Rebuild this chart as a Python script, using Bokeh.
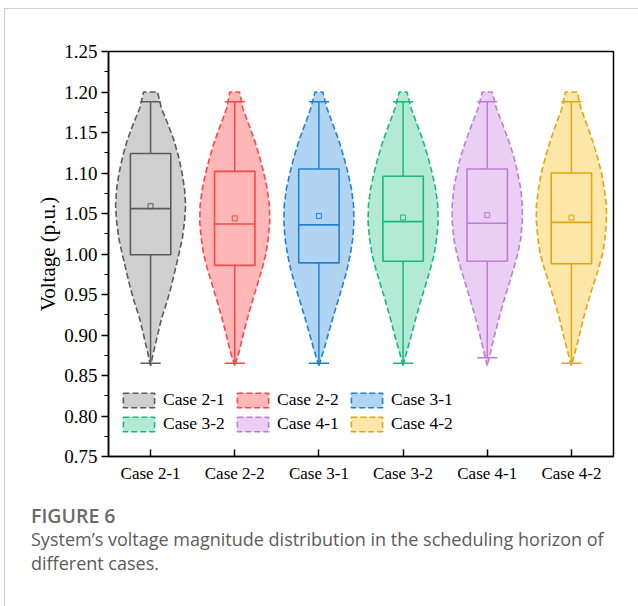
import numpy as np
from bokeh.plotting import figure
from bokeh.models import (Range1d, FixedTicker, NumeralTickFormatter, Legend, LegendItem, Div)
from bokeh.layouts import column
from bokeh.embed import file_html
from bokeh.resources import INLINE

# ---------------- data ----------------
CASES = ["Case 2-1", "Case 2-2", "Case 3-1", "Case 3-2", "Case 4-1", "Case 4-2"]

# violin outline: voltage levels and relative density (half width, 1 = widest)
LEVELS = [0.862, 0.88, 0.90, 0.92, 0.94, 0.96, 0.98, 1.00, 1.02, 1.04,
          1.06, 1.08, 1.10, 1.12, 1.14, 1.16, 1.18, 1.20]
DENS_21 = [0.00, 0.09, 0.20, 0.31, 0.46, 0.59, 0.70, 0.81, 0.91, 0.97, 1.00, 0.97, 0.90, 0.80, 0.67, 0.50, 0.31, 0.20]
DENS_22 = [0.00, 0.13, 0.24, 0.36, 0.49, 0.63, 0.77, 0.89, 0.96, 1.00, 0.99, 0.93, 0.83, 0.71, 0.57, 0.40, 0.23, 0.14]
DENS_31 = [0.00, 0.13, 0.26, 0.39, 0.53, 0.67, 0.80, 0.90, 0.97, 1.00, 0.99, 0.93, 0.83, 0.71, 0.57, 0.40, 0.23, 0.11]
DENS_32 = [0.00, 0.11, 0.24, 0.36, 0.49, 0.63, 0.77, 0.89, 0.96, 1.00, 0.99, 0.93, 0.83, 0.71, 0.57, 0.40, 0.23, 0.11]
DENS_41 = [0.00, 0.10, 0.21, 0.33, 0.46, 0.60, 0.74, 0.87, 0.96, 1.00, 1.00, 0.96, 0.87, 0.76, 0.61, 0.44, 0.26, 0.14]
DENS_42 = [0.00, 0.11, 0.23, 0.34, 0.47, 0.61, 0.76, 0.89, 0.96, 1.00, 1.00, 0.94, 0.86, 0.74, 0.60, 0.44, 0.27, 0.17]
DENSITIES = [DENS_21, DENS_22, DENS_31, DENS_32, DENS_41, DENS_42]

# box statistics
WHISK_LO = [0.865, 0.865, 0.865, 0.865, 0.872, 0.865]
Q1       = [0.999, 0.986, 0.989, 0.991, 0.991, 0.988]
MEDIAN   = [1.056, 1.037, 1.036, 1.040, 1.038, 1.039]
Q3       = [1.124, 1.102, 1.105, 1.096, 1.105, 1.100]
WHISK_HI = [1.188, 1.188, 1.188, 1.188, 1.188, 1.188]
MEAN     = [1.059, 1.044, 1.047, 1.045, 1.048, 1.045]

Y_TICKS = [0.75, 0.80, 0.85, 0.90, 0.95, 1.00, 1.05, 1.10, 1.15, 1.20, 1.25]
Y_MINOR = [0.775, 0.825, 0.875, 0.925, 0.975, 1.025, 1.075, 1.125, 1.175, 1.225]

FILLS = ["#cfcfcf", "#ffb7b7", "#b1d4f3", "#b3ead5", "#e9cff4", "#fde7a8"]
LINES = ["#5a5a5a", "#ff4545", "#1f80d8", "#1ab77a", "#c27ad8", "#e0a50f"]

SERIF = "Liberation Serif"
VIOLIN_HALF = 0.416
BOX_HALF = 0.24
CAP_HALF = 0.12

# ---------------- figure ----------------
p = figure(width=633, height=490, output_backend="svg", toolbar_location=None,
           x_range=Range1d(0.5, 6.5), y_range=Range1d(0.75, 1.25),
           min_border_left=103, min_border_right=25, min_border_top=42, min_border_bottom=43)
p.xgrid.visible = False
p.ygrid.visible = False
p.outline_line_color = "black"
p.outline_line_width = 1.5
p.background_fill_color = "white"
p.border_fill_color = "white"

xs = list(range(1, len(CASES) + 1))
items = []
for i, name in enumerate(CASES):
    c = xs[i]
    lev = np.array(LEVELS)
    d = np.array(DENSITIES[i]) * VIOLIN_HALF
    px = np.concatenate([c - d, (c + d)[::-1]])
    py = np.concatenate([lev, lev[::-1]])
    r = p.patch(px, py, fill_color=FILLS[i], fill_alpha=1.0, line_color=LINES[i],
                line_width=1.6, line_dash="6 3")
    items.append(LegendItem(label=name, renderers=[r]))
    # whiskers
    p.segment(x0=[c, c], y0=[Q3[i], Q1[i]], x1=[c, c], y1=[WHISK_HI[i], WHISK_LO[i]],
              line_color=LINES[i], line_width=1.5)
    p.segment(x0=[c - CAP_HALF, c - CAP_HALF], y0=[WHISK_HI[i], WHISK_LO[i]],
              x1=[c + CAP_HALF, c + CAP_HALF], y1=[WHISK_HI[i], WHISK_LO[i]],
              line_color=LINES[i], line_width=1.5)
    # box
    p.quad(left=[c - BOX_HALF], right=[c + BOX_HALF], bottom=[Q1[i]], top=[Q3[i]],
           fill_color=None, line_color=LINES[i], line_width=1.6)
    p.segment(x0=[c - BOX_HALF], y0=[MEDIAN[i]], x1=[c + BOX_HALF], y1=[MEDIAN[i]],
              line_color=LINES[i], line_width=1.6)
    p.scatter(x=[c], y=[MEAN[i]], marker="square", size=5, fill_color=None,
              line_color=LINES[i], line_width=1)

# axes
p.yaxis.ticker = FixedTicker(ticks=Y_TICKS, minor_ticks=Y_MINOR)
p.yaxis.formatter = NumeralTickFormatter(format="0.00")
p.xaxis.ticker = FixedTicker(ticks=xs, minor_ticks=[])
p.xaxis.major_label_overrides = {x: n for x, n in zip(xs, CASES)}

for ax in (p.xaxis[0], p.yaxis[0]):
    ax.axis_line_color = "black"
    ax.axis_line_width = 1.5
    ax.major_tick_line_color = "black"
    ax.major_tick_line_width = 1.5
    ax.minor_tick_line_color = "black"
    ax.minor_tick_line_width = 1.2
    ax.major_label_text_font = SERIF
    ax.major_label_text_color = "black"
    ax.axis_label_text_font = SERIF
    ax.axis_label_text_font_style = "normal"
    ax.axis_label_text_color = "black"

p.yaxis.major_label_text_font_size = "19px"
p.xaxis.major_label_text_font_size = "17px"

p.yaxis.major_tick_out = 7
p.yaxis.major_tick_in = 0
p.yaxis.minor_tick_out = 4
p.yaxis.minor_tick_in = 0
p.yaxis.major_label_standoff = 4
p.yaxis.axis_label = "Voltage (p.u.)"
p.yaxis.axis_label_text_font_size = "21px"
p.yaxis.axis_label_standoff = 1

p.xaxis.major_tick_out = 0
p.xaxis.major_tick_in = 7
p.xaxis.minor_tick_out = 0
p.xaxis.minor_tick_in = 0
p.xaxis.major_label_standoff = 7

legend = Legend(items=items, location=(11, 22), orientation="horizontal", ncols=3,
                glyph_width=39, glyph_height=18, label_height=18, label_width=67,
                label_standoff=5, spacing=3, padding=0, margin=0,
                label_text_font=SERIF, label_text_font_size="17.5px",
                label_text_color="black", border_line_color=None,
                background_fill_alpha=0.0)
p.add_layout(legend, "center")

caption = Div(
    text=("<div style=\"padding-left:21px;font-family:'Open Sans';\">"
          "<div style=\"font-size:19.5px;font-weight:600;line-height:24px;margin-top:0px;color:#6a6a6a;\">FIGURE 6</div>"
          "<div style=\"font-size:18px;line-height:23.5px;color:#5b5b5b;\">"
          "System\u2019s voltage magnitude distribution in the scheduling horizon of<br>different cases.</div></div>"),
    width=633, height=99)

layout = column(p, caption, margin=(8, 0, 0, 4),
                styles={"border-left": "1px solid #d0d0d0", "border-top": "1px solid #d0d0d0"})

open("out.html", "w", encoding="utf-8").write(file_html(layout, INLINE))
